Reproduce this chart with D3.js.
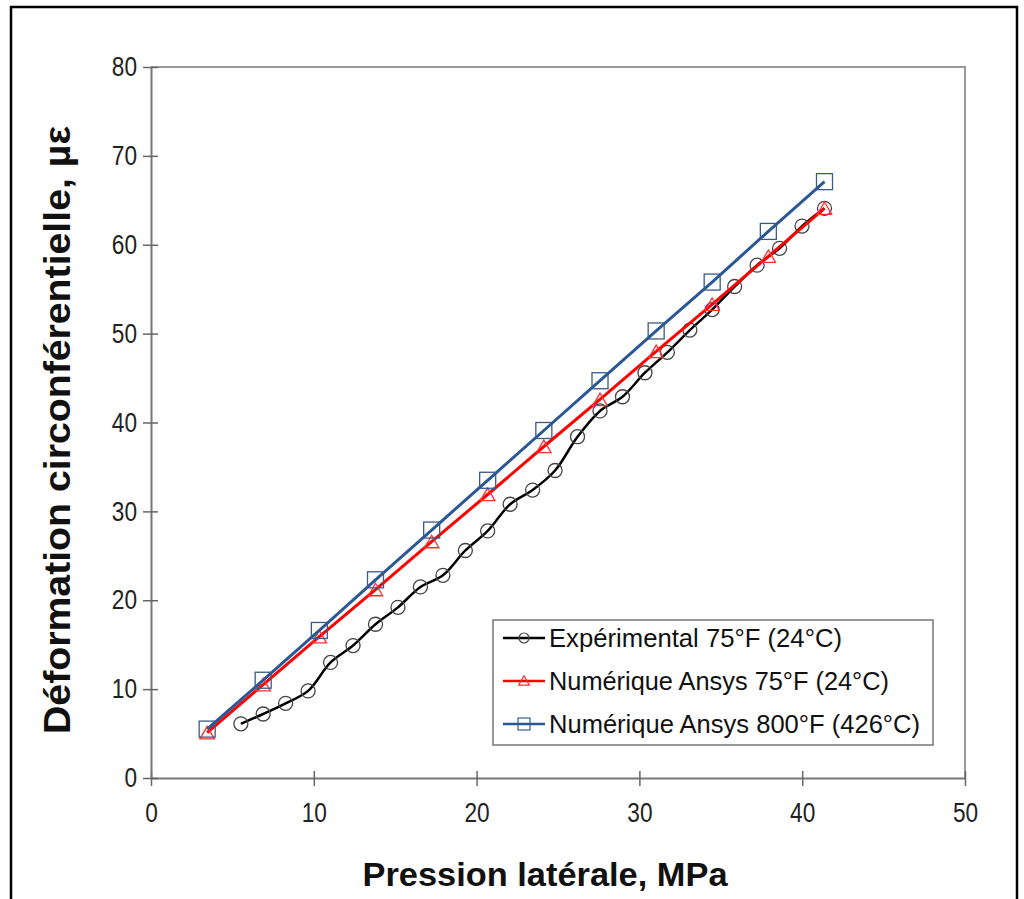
<!DOCTYPE html>
<html>
<head>
    <meta charset="utf-8" />
    <title>Déformation circonférentielle</title>
    <script src="https://cdn.jsdelivr.net/npm/d3@7"></script>
    <style>
        body { margin: 0; background: #fff; }
        text { font-family: "Liberation Sans", Arial, sans-serif; }
    </style>
</head>
<body>
<script>

    // pression (MPa) et deformation (µε)
    var numX = [3.45, 6.89, 10.34, 13.79, 17.24, 20.68, 24.13, 27.58, 31.03, 34.47, 37.92, 41.37];
    var blueY = [5.5, 11.0, 16.6, 22.3, 27.9, 33.5, 39.1, 44.7, 50.3, 55.8, 61.5, 67.1];
    var redY = [5.1, 10.5, 15.9, 21.2, 26.6, 31.9, 37.3, 42.6, 48.0, 53.3, 58.7, 64.1];
    var expX = [5.52, 6.89, 8.27, 9.65, 11.03, 12.41, 13.79, 15.17, 16.55, 17.93, 19.31, 20.68, 22.06, 23.44,
                24.82, 26.20, 27.58, 28.96, 30.34, 31.72, 33.10, 34.47, 35.85, 37.23, 38.61, 39.99, 41.37];
    var expY = [6.1, 7.2, 8.4, 9.8, 13.0, 14.9, 17.3, 19.2, 21.5, 22.8, 25.6, 27.8, 30.8, 32.4,
                34.6, 38.4, 41.3, 42.9, 45.6, 47.9, 50.4, 52.7, 55.3, 57.7, 59.6, 62.1, 64.1];
    var xTicks = [0, 10, 20, 30, 40, 50];
    var yTicks = [0, 10, 20, 30, 40, 50, 60, 70, 80];
    var legendLabels = ['Expérimental 75°F (24°C)', 'Numérique Ansys 75°F (24°C)', 'Numérique Ansys 800°F (426°C)'];

    var width = 1024;
    var height = 899;
    var plot = { left: 151, right: 965, top: 67, bottom: 778 };

    var xScale = d3.scaleLinear().domain([0, 50]).range([plot.left, plot.right]);
    var yScale = d3.scaleLinear().domain([0, 80]).range([plot.bottom, plot.top]);

    var svg = d3.select('body').append('svg').attr('width', width).attr('height', height);

    // cadre exterieur
    svg.append('rect').attr('x', 11).attr('y', 7).attr('width', 1006).attr('height', 900)
        .attr('fill', 'none').attr('stroke', '#000').attr('stroke-width', 2.5);

    // bordure haut / droite
    svg.append('path')
        .attr('d', 'M' + plot.left + ',' + plot.top + 'H' + plot.right + 'V' + plot.bottom)
        .attr('fill', 'none').attr('stroke', '#9a9a9a').attr('stroke-width', 2);

    // le texte de l'original est un peu etire en hauteur
    function narrow(sel, perChar){
        sel.attr('textLength', function(){ return this.textContent.length * perChar; })
           .attr('lengthAdjust', 'spacingAndGlyphs');
    }

    // axes
    var minorX = d3.range(0, 51, 2);
    var minorY = d3.range(0, 81, 2);
    var gx = svg.append('g').attr('transform', 'translate(0,' + plot.bottom + ')');
    gx.call(d3.axisBottom(xScale).tickValues(minorX).tickSize(-5).tickFormat(''));
    gx.call(d3.axisBottom(xScale).tickValues(xTicks).tickSizeInner(8).tickSizeOuter(0).tickPadding(17).tickFormat(d3.format('d')));
    gx.selectAll('line').attr('stroke', '#666').attr('stroke-width', 1.5);
    gx.selectAll('.domain').attr('stroke', '#777').attr('stroke-width', 2);
    gx.selectAll('text').attr('font-size', 27).attr('fill', '#222').call(narrow, 12.6);

    var gy = svg.append('g').attr('transform', 'translate(' + plot.left + ',0)');
    gy.call(d3.axisLeft(yScale).tickValues(minorY).tickSize(-5).tickFormat(''));
    gy.call(d3.axisLeft(yScale).tickValues(yTicks).tickSizeInner(8).tickSizeOuter(0).tickPadding(6).tickFormat(d3.format('d')));
    gy.selectAll('line').attr('stroke', '#666').attr('stroke-width', 1.5);
    gy.selectAll('.domain').attr('stroke', '#777').attr('stroke-width', 2);
    gy.selectAll('text').attr('font-size', 27).attr('fill', '#222').call(narrow, 12.6);
    // les graduations majeures traversent l'axe
    gx.selectAll('.tick line').filter(function(d){ return xTicks.indexOf(d) >= 0; }).attr('y1', -7);
    gy.selectAll('.tick line').filter(function(d){ return yTicks.indexOf(d) >= 0; }).attr('x1', 7);

    // titres
    svg.append('text').attr('x', 545).attr('y', 886).attr('text-anchor', 'middle')
        .attr('font-size', 34).attr('font-weight', 'bold').attr('fill', '#111')
        .attr('textLength', 365).attr('lengthAdjust', 'spacingAndGlyphs')
        .text('Pression latérale, MPa');
    svg.append('text').attr('transform', 'translate(70,' + 430 + ') rotate(-90)').attr('text-anchor', 'middle')
        .attr('font-size', 36).attr('font-weight', 'bold').attr('fill', '#111')
        .attr('textLength', 608).attr('lengthAdjust', 'spacingAndGlyphs')
        .text('Déformation circonférentielle, µε');

    var expData = expX.map(function(x, i){ return [x, expY[i]]; });
    var redData = numX.map(function(x, i){ return [x, redY[i]]; });
    var blueData = numX.map(function(x, i){ return [x, blueY[i]]; });

    var line = d3.line().x(function(d){ return xScale(d[0]); }).y(function(d){ return yScale(d[1]); });
    var smooth = d3.line().curve(d3.curveCatmullRom.alpha(0.5))
        .x(function(d){ return xScale(d[0]); }).y(function(d){ return yScale(d[1]); });

    var tri = d3.symbol().type(d3.symbolTriangle).size(90);

    function drawCircles(g, data){
        g.selectAll('circle.m').data(data).enter().append('circle').attr('class', 'm')
            .attr('cx', function(d){ return xScale(d[0]); })
            .attr('cy', function(d){ return yScale(d[1]); })
            .attr('r', 7).attr('fill', 'none').attr('stroke', '#444').attr('stroke-width', 1.3);
    }
    function drawTriangles(g, data){
        g.selectAll('path.m').data(data).enter().append('path').attr('class', 'm')
            .attr('d', tri)
            .attr('transform', function(d){ return 'translate(' + xScale(d[0]) + ',' + (yScale(d[1]) + 2) + ')'; })
            .attr('fill', 'none').attr('stroke', '#ff3030').attr('stroke-width', 1.3);
    }
    function drawSquares(g, data){
        g.selectAll('rect.m').data(data).enter().append('rect').attr('class', 'm')
            .attr('x', function(d){ return xScale(d[0]) - 8; })
            .attr('y', function(d){ return yScale(d[1]) - 8; })
            .attr('width', 16).attr('height', 16)
            .attr('fill', 'none').attr('stroke', '#3a5a8a').attr('stroke-width', 1.3);
    }

    var gExp = svg.append('g');
    gExp.append('path').datum(expData).attr('d', smooth).attr('fill', 'none').attr('stroke', '#000').attr('stroke-width', 2.5);
    drawCircles(gExp, expData);

    var gRed = svg.append('g');
    gRed.append('path').datum(redData).attr('d', line).attr('fill', 'none').attr('stroke', '#ff0000').attr('stroke-width', 3);
    drawTriangles(gRed, redData);

    var gBlue = svg.append('g');
    gBlue.append('path').datum(blueData).attr('d', line).attr('fill', 'none').attr('stroke', '#2b5797').attr('stroke-width', 3);
    drawSquares(gBlue, blueData);

    // legende
    var lg = svg.append('g').attr('transform', 'translate(493,620)');
    lg.append('rect').attr('width', 440).attr('height', 125).attr('fill', '#fff')
        .attr('stroke', '#777').attr('stroke-width', 1.5);
    var legendColors = ['#000', '#ff0000', '#2b5797'];
    var legendWidths = [293, 340, 371];
    legendLabels.forEach(function(label, i){
        var yy = 18 + i * 43;
        lg.append('line').attr('x1', 10).attr('x2', 52).attr('y1', yy).attr('y2', yy)
            .attr('stroke', legendColors[i]).attr('stroke-width', 2.5);
        if (i === 0) {
            lg.append('circle').attr('cx', 31).attr('cy', yy).attr('r', 5).attr('fill', 'none').attr('stroke', '#444').attr('stroke-width', 1.2);
        } else if (i === 1) {
            lg.append('path').attr('d', d3.symbol().type(d3.symbolTriangle).size(50))
                .attr('transform', 'translate(31,' + (yy + 1) + ')').attr('fill', 'none').attr('stroke', '#ff3030').attr('stroke-width', 1.2);
        } else {
            lg.append('rect').attr('x', 25).attr('y', yy - 6).attr('width', 12).attr('height', 12)
                .attr('fill', 'none').attr('stroke', '#3a5a8a').attr('stroke-width', 1.2);
        }
        lg.append('text').attr('x', 56).attr('y', yy + 9).attr('font-size', 25).attr('fill', '#111')
            .attr('textLength', legendWidths[i]).attr('lengthAdjust', 'spacingAndGlyphs')
            .text(label);
    });

</script>
</body>
</html>
